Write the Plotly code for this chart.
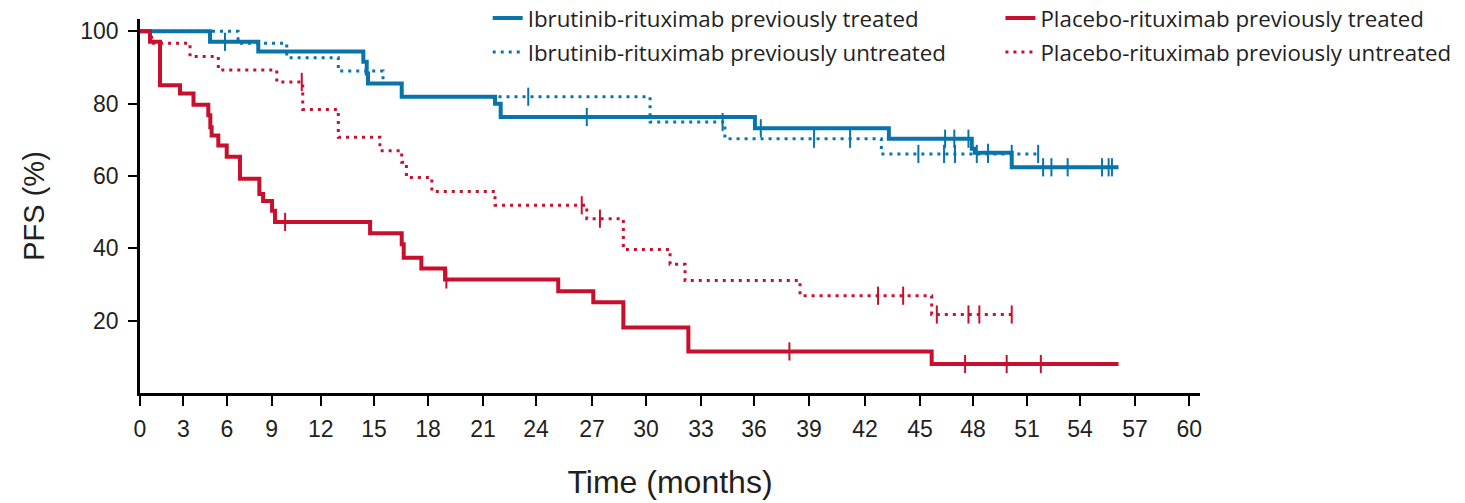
import numpy as np
import plotly.graph_objects as go

# ---- Kaplan-Meier step data (time in months, PFS in %) ----
ibr_tx_time = [0, 4.83, 8.10, 14.40, 14.59, 14.66, 16.54, 21.68, 22.00, 36.05, 43.30, 47.93, 48.10, 50.15, 56.10]
ibr_tx_pfs = [100, 97.1, 94.4, 91.6, 88.3, 85.6, 81.9, 80.0, 76.3, 73.2, 70.3, 67.5, 66.4, 62.4, 62.4]
ibr_tx_cens = [5.86, 26.72, 36.37, 46.42, 46.94, 47.74, 48.83, 51.91, 52.38, 53.30, 55.20, 55.56, 55.74]

ibr_un_time = [0, 6.74, 9.92, 12.99, 15.50, 16.54, 30.22, 34.35, 42.89, 51.80]
ibr_un_pfs = [100, 96.7, 92.7, 89.0, 85.6, 81.9, 74.9, 70.3, 66.1, 66.1]
ibr_un_cens = [23.56, 34.22, 39.27, 41.20, 44.91, 46.36, 46.98, 48.21, 48.83, 50.15, 51.63]

pla_tx_time = [0, 0.69, 1.38, 2.76, 3.69, 4.71, 4.85, 4.94, 5.40, 5.98, 6.87, 8.17, 8.42, 9.02, 9.20,
               14.78, 16.54, 16.65, 17.63, 18.93, 25.19, 27.07, 28.74, 32.31, 45.66, 56.10]
pla_tx_pfs = [100, 97.1, 85.1, 82.8, 79.7, 76.8, 73.5, 71.2, 68.4, 65.3, 59.2, 55.0, 53.1, 50.4, 47.3,
              44.2, 41.1, 37.4, 34.4, 31.4, 28.1, 25.1, 18.1, 11.5, 8.0, 8.0]
pla_tx_cens = [9.82, 19.00, 37.93, 47.55, 49.87, 51.78]

pla_un_time = [0, 0.80, 3.45, 5.40, 9.31, 10.90, 12.99, 15.33, 16.54, 16.80, 18.21, 21.68, 26.72,
               28.74, 31.31, 32.13, 38.51, 45.66, 50.15]
pla_un_pfs = [100, 96.7, 93.0, 89.3, 86.0, 78.4, 70.7, 67.0, 63.8, 59.6, 55.7, 51.9, 48.2,
              39.7, 35.6, 31.1, 26.9, 21.7, 21.7]
pla_un_cens = [10.84, 26.45, 27.44, 42.71, 44.08, 45.95, 47.74, 48.35, 50.15]

# ---- axis labels ----
month_ticks = list(range(0, 61, 3))
pfs_ticks = [20, 40, 60, 80, 100]

# The printed time axis is not evenly spaced (the first year is compressed);
# these are the axis-unit positions of each labelled month.
axis_tick_spacing = [0, 2.487, 4.975, 7.531, 10.333, 13.380, 16.468, 19.613, 22.644, 25.846, 28.934,
                     32.079, 35.109, 38.254, 41.456, 44.601, 47.632, 50.720, 53.750, 56.895, 60.0]


def time_axis(t):
    return np.interp(np.asarray(t, dtype=float), month_ticks, axis_tick_spacing)


def pfs_at(times, pfs, t):
    idx = np.searchsorted(times, t, side="right") - 1
    return np.asarray(pfs)[idx]


BLUE = "#0874AA"
RED = "#C8102E"
INK = "#231F20"
DOT = "3px,5px"

series = [
    ("Ibrutinib-rituximab previously treated", ibr_tx_time, ibr_tx_pfs, ibr_tx_cens, BLUE, "solid", 4, "legend"),
    ("Placebo-rituximab previously treated", pla_tx_time, pla_tx_pfs, pla_tx_cens, RED, "solid", 4, "legend2"),
    ("Ibrutinib-rituximab previously untreated", ibr_un_time, ibr_un_pfs, ibr_un_cens, BLUE, DOT, 3, "legend3"),
    ("Placebo-rituximab previously untreated", pla_un_time, pla_un_pfs, pla_un_cens, RED, DOT, 3, "legend4"),
]

fig = go.Figure()
for name, t, s, cens, color, dash, width, leg in series:
    fig.add_trace(go.Scatter(
        x=time_axis(t), y=s, mode="lines", line_shape="hv", name=name,
        line=dict(color=color, width=width, dash=dash), legend=leg,
    ))
for name, t, s, cens, color, dash, width, leg in series:
    fig.add_trace(go.Scatter(
        x=time_axis(cens), y=pfs_at(t, s, cens), mode="markers", showlegend=False,
        marker=dict(symbol="line-ns", size=13, line=dict(color=color, width=2)),
    ))

# Legend entries laid out as a 2 x 2 grid in figure (container) coordinates
legend_style = dict(
    orientation="h", xanchor="left", yanchor="middle", xref="container", yref="container",
    font=dict(family="Open Sans", size=22.3, color=INK),
    bgcolor="rgba(0,0,0,0)", borderwidth=0,
)
col_left, col_right = 0.3329, 0.6829
row_top, row_bottom = 0.9642, 0.8966

fig.update_layout(
    width=1465, height=503,
    margin=dict(l=140, r=265, t=19, b=110, autoexpand=False),
    paper_bgcolor="white", plot_bgcolor="white",
    showlegend=True,
    legend=dict(x=col_left, y=row_top, **legend_style),
    legend2=dict(x=col_right, y=row_top, **legend_style),
    legend3=dict(x=col_left, y=row_bottom, **legend_style),
    legend4=dict(x=col_right, y=row_bottom, **legend_style),
    xaxis=dict(
        range=[0, 60.61], tickvals=time_axis(month_ticks), ticktext=[str(m) for m in month_ticks],
        showgrid=False, zeroline=False, showline=True, linecolor="black", linewidth=2.5,
        ticks="outside", ticklen=10, tickwidth=1.5, tickcolor="black", ticklabelstandoff=4,
        tickfont=dict(family="Liberation Sans", size=23, color=INK),
        title=dict(text="Time (months)", font=dict(family="Liberation Sans", size=32, color=INK), standoff=30),
    ),
    yaxis=dict(
        range=[0, 103.4], tickvals=pfs_ticks,
        showgrid=False, zeroline=False, showline=True, linecolor="black", linewidth=2.5,
        ticks="outside", ticklen=9, tickwidth=1.5, tickcolor="black", ticklabelstandoff=5,
        tickfont=dict(family="Liberation Sans", size=23, color=INK),
        title=dict(text="PFS (%)", font=dict(family="Liberation Sans", size=29, color=INK), standoff=28),
    ),
)

fig.write_html("out.html")
